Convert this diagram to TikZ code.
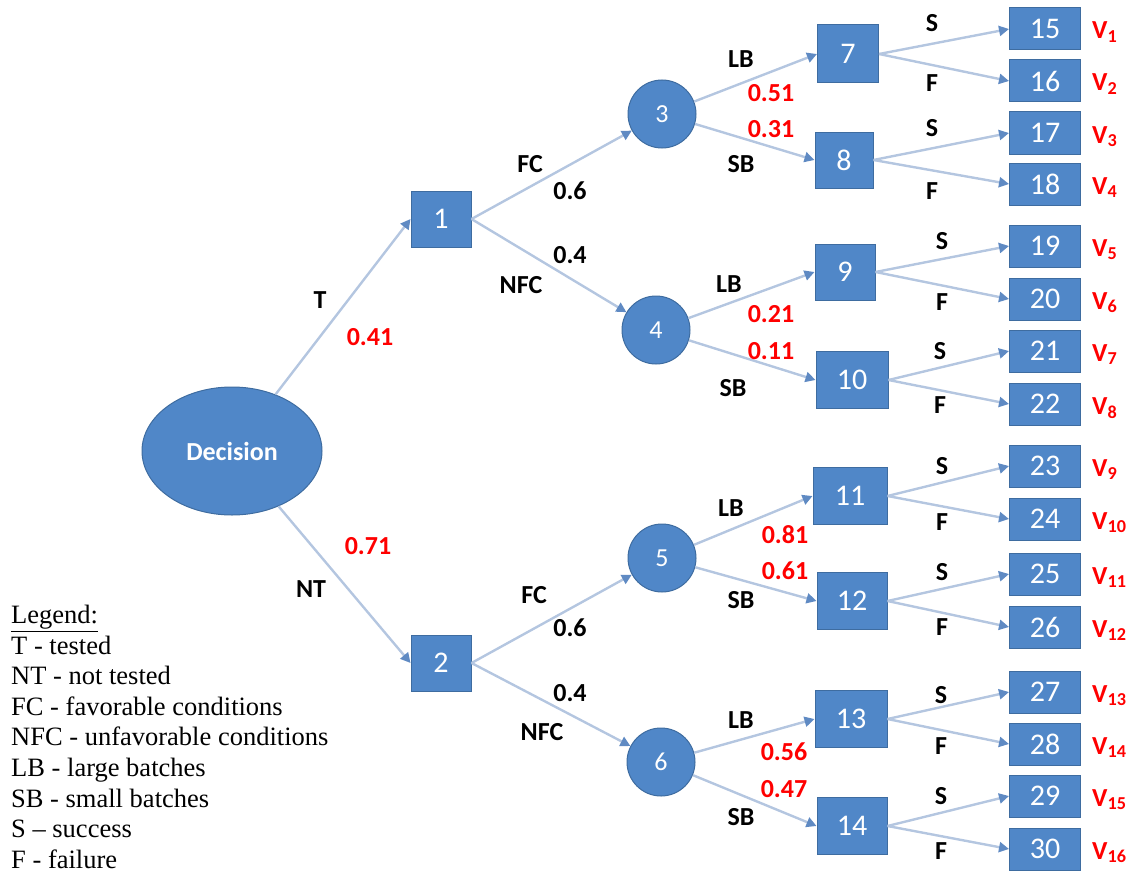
\documentclass[tikz,border=0pt]{standalone}
\usepackage{fontspec}
\setmainfont{Carlito}
\newfontfamily\legendfont{Liberation Serif}
\usetikzlibrary{arrows.meta,shapes.geometric}
\definecolor{nodefill}{RGB}{80,135,200}
\definecolor{nodeborder}{RGB}{62,108,160}
\definecolor{edgecol}{RGB}{180,198,224}
\definecolor{tipcol}{RGB}{95,138,195}
\definecolor{probred}{RGB}{255,0,0}
\tikzset{
  base node/.style={draw=nodeborder, line width=1pt, fill=nodefill, text=white, inner sep=0pt,
    font=\fontsize{30}{34}\selectfont},
  sq/.style={base node, rectangle, minimum width=60, minimum height=56},
  wsq/.style={base node, rectangle, minimum width=72, minimum height=57},
  leaf/.style={base node, rectangle, minimum width=71, minimum height=42},
  rnd/.style={base node, circle, minimum size=68, font=\fontsize{26}{30}\selectfont},
  decnode/.style={base node, ellipse, minimum width=180, minimum height=128,
    font=\bfseries\fontsize{26}{30}\selectfont},
  edge/.style={draw=edgecol, line width=2.4pt,
    -{Triangle[length=10pt,width=10pt,color=tipcol]}},
  lbl/.style={font=\bfseries\fontsize{26}{30}\selectfont, text depth=0pt, inner sep=0pt},
  prob/.style={lbl, text=probred},
  vlbl/.style={font=\bfseries\fontsize{26}{30}\selectfont, text=probred, inner sep=0pt, anchor=base west},
  legendtext/.style={font=\legendfont\fontsize{26.5}{30.6}\selectfont, align=left, inner sep=0pt, anchor=north west}
}
\begin{document}
\begin{tikzpicture}[x=1pt,y=-1pt]
\useasboundingbox (0,0) rectangle (1131,872);
% main nodes
\node[decnode] (dec) at (232,451) {Decision};
\node[sq] (n1) at (441,219) {1};
\node[sq] (n2) at (441,663) {2};
\node[rnd] (c3) at (662,114) {3};
\node[rnd] (c4) at (656,330) {4};
\node[rnd] (c5) at (662,558) {5};
\node[rnd] (c6) at (661,762) {6};
\node[sq, minimum width=61, minimum height=58] (b7) at (848,54) {7};
\node[sq, minimum width=58] (b8) at (844,160) {8};
\node[sq] (b9) at (845,272) {9};
\node[wsq] (b10) at (852,380) {10};
\node[wsq, minimum width=74] (b11) at (850,496) {11};
\node[wsq, minimum width=70] (b12) at (852,601) {12};
\node[wsq] (b13) at (851,719) {13};
\node[wsq, minimum width=70] (b14) at (852,826) {14};
% leaves
\foreach \n/\y in {15/29,16/81,17/133,18/184,19/246,20/299,21/351,22/404,23/466,24/519,25/574,26/627,27/692,28/744,29/796,30/849}{
  \node[leaf] (l\n) at (1045,\y) {\n};
}
% V labels
\foreach \n/\i in {15/1,16/2,17/3,18/4,19/5,20/6,21/7,22/8,23/9,24/10,25/11,26/12,27/13,28/14,29/15,30/16}{
  \path (l\n.center) ++(47,10) node[vlbl] (v\n) {V\textsubscript{\i}};
}
% edges
\draw[edge] (dec) -- (n1.west);
\draw[edge] (dec) -- (n2.west);
\draw[edge] (n1.east) -- (c3);
\draw[edge] (n1.east) -- (c4);
\draw[edge] (n2.east) -- (c5);
\draw[edge] (n2.east) -- (c6);
\draw[edge] (c3) -- (b7.west);
\draw[edge] (c3) -- (b8.west);
\draw[edge] (c4) -- (b9.west);
\draw[edge] (c4) -- (b10.west);
\draw[edge] (c5) -- (b11.west);
\draw[edge] (c5) -- (b12.west);
\draw[edge] (c6) -- (b13.west);
\draw[edge] (c6) -- (b14.west);
\foreach \b/\s/\f in {b7/l15/l16,b8/l17/l18,b9/l19/l20,b10/l21/l22,b11/l23/l24,b12/l25/l26,b13/l27/l28,b14/l29/l30}{
  \draw[edge] (\b.east) -- (\s.west);
  \draw[edge] (\b.east) -- (\f.west);
}
% branch labels
\node[lbl] (tT) at (320,300) {T};
\node[prob] (p041) at (370,337) {0.41};
\node[prob] (p071) at (368,546) {0.71};
\node[lbl] (tNT) at (311,589) {NT};
\node[lbl] (tFC1) at (530,164) {FC};
\node[lbl] (q06a) at (570,191) {0.6};
\node[lbl] (q04a) at (570,255) {0.4};
\node[lbl] (tNFC1) at (521,285) {NFC};
\node[lbl] (tFC2) at (534,595) {FC};
\node[lbl] (q06b) at (570,628) {0.6};
\node[lbl] (q04b) at (570,693) {0.4};
\node[lbl] (tNFC2) at (542,732) {NFC};
\node[lbl] (lb3) at (741,59) {LB};
\node[prob] (p051) at (771,93) {0.51};
\node[prob] (p031) at (771,129) {0.31};
\node[lbl] (sb3) at (741,164) {SB};
\node[lbl] (lb4) at (729,284) {LB};
\node[prob] (p021) at (771,314) {0.21};
\node[prob] (p011) at (771,351) {0.11};
\node[lbl] (sb4) at (733,388) {SB};
\node[lbl] (lb5) at (731,508) {LB};
\node[prob] (p081) at (785,535) {0.81};
\node[prob] (p061) at (785,571) {0.61};
\node[lbl] (sb5) at (741,600) {SB};
\node[lbl] (lb6) at (741,720) {LB};
\node[prob] (p056) at (784,752) {0.56};
\node[prob] (p047) at (784,789) {0.47};
\node[lbl] (sb6) at (741,817) {SB};
% S / F labels
\foreach \k/\x/\ys/\yf in {7/932/23/83,8/932/128/191,9/942/241/302,10/940/351/405,11/942/466/522,12/942/572/627,13/941/695/746,14/941/796/851}{
  \node[lbl] (s\k) at (\x,\ys) {S};
  \node[lbl] (f\k) at (\x,\yf) {F};
}
% legend
\node[legendtext] (legend) at (11,605) {\underline{Legend:}\\T - tested\\NT - not tested\\FC - favorable conditions\\NFC - unfavorable conditions\\LB - large batches\\SB - small batches\\S – success\\F - failure};
\end{tikzpicture}
\end{document}
